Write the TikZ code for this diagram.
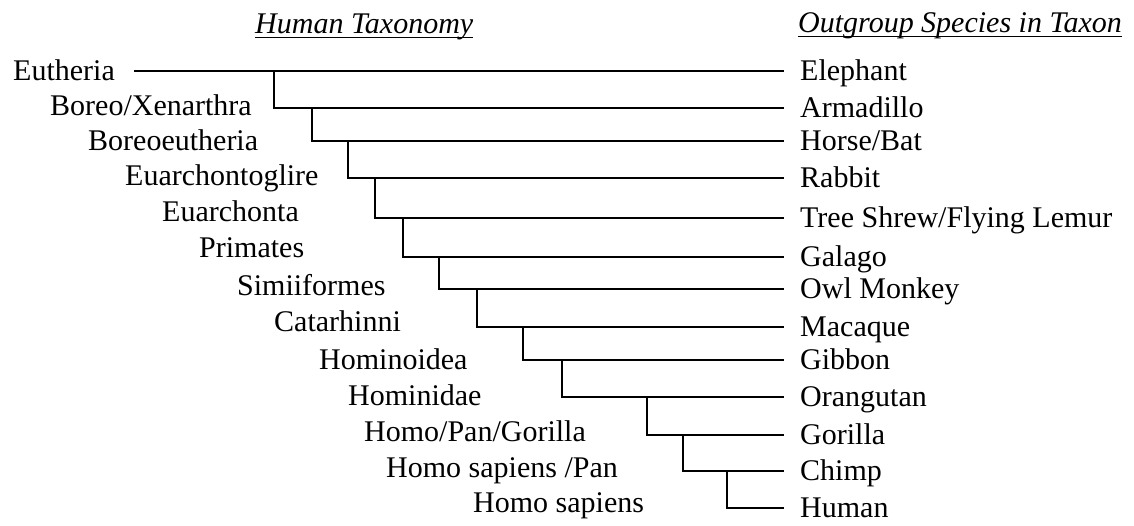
\documentclass[tikz,border=0pt]{standalone}
\usepackage{fontspec}
\setmainfont{Liberation Serif}
\begin{document}
\begin{tikzpicture}[x=1pt,y=-1pt,
  every node/.style={font=\fontsize{30}{36}\selectfont},
  clade/.style={anchor=west, inner xsep=0pt, inner ysep=0pt, text height=20pt, text depth=2pt},
  taxon/.style={anchor=west, inner xsep=16pt, inner ysep=0pt, text height=20pt, text depth=2pt},
  heading/.style={anchor=base west, inner sep=0pt, font=\fontsize{30}{36}\selectfont\itshape},
  branch/.style={line width=1.1pt, black},
  uline/.style={line width=1pt, black}]
\useasboundingbox (0,0) rectangle (1134,525);

% headings
\node[heading] (ht) at (255,33) {Human Taxonomy};
\node[heading] (ot) at (798,32) {Outgroup Species in Taxon};
\draw[uline] ([yshift=-4.5pt]ht.base west) -- ([yshift=-4.5pt]ht.base east);
\draw[uline] ([yshift=-4.5pt]ot.base west) -- ([yshift=-4.5pt]ot.base east);

% clade labels (left)
\node[clade] (eutheria) at (13,71) {Eutheria};
\node[clade] (boreox) at (50,106) {Boreo/Xenarthra};
\node[clade] (boreoeu) at (88,141) {Boreoeutheria};
\node[clade] (euarchontoglire) at (125,176) {Euarchontoglire};
\node[clade] (euarchonta) at (162,212) {Euarchonta};
\node[clade] (primates) at (199,248) {Primates};
\node[clade] (simii) at (237,286) {Simiiformes};
\node[clade] (catarhinni) at (274,322) {Catarhinni};
\node[clade] (hominoidea) at (319,360) {Hominoidea};
\node[clade] (hominidae) at (348,396) {Hominidae};
\node[clade] (hpg) at (364,432) {Homo/Pan/Gorilla};
\node[clade] (hsp) at (386,468) {Homo sapiens /Pan};
\node[clade] (hs) at (473,503) {Homo sapiens};

% outgroup species (right)
\node[taxon] (elephant) at (784,71) {Elephant};
\node[taxon] (armadillo) at (784,108) {Armadillo};
\node[taxon] (horsebat) at (784,141) {Horse/Bat};
\node[taxon] (rabbit) at (784,178) {Rabbit};
\node[taxon] (treeshrew) at (784,218) {Tree Shrew/Flying Lemur};
\node[taxon] (galago) at (784,257) {Galago};
\node[taxon] (owl) at (784,289) {Owl Monkey};
\node[taxon] (macaque) at (784,327) {Macaque};
\node[taxon] (gibbon) at (784,360) {Gibbon};
\node[taxon] (orangutan) at (784,397) {Orangutan};
\node[taxon] (gorilla) at (784,435) {Gorilla};
\node[taxon] (chimp) at (784,471) {Chimp};
\node[taxon] (human) at (784,508) {Human};

% junctions
\coordinate (j1) at (274,71);
\coordinate (j2) at (312,108);
\coordinate (j3) at (348,141);
\coordinate (j4) at (375,178);
\coordinate (j5) at (403,218);
\coordinate (j6) at (439,257);
\coordinate (j7) at (477,289);
\coordinate (j8) at (523,327);
\coordinate (j9) at (562,360);
\coordinate (j10) at (647,397);
\coordinate (j11) at (683,435);
\coordinate (j12) at (727,471);

% branches
\draw[branch, shorten <=19pt] (eutheria.east) -- (elephant.west);
\draw[branch] (j1) |- (armadillo.west);
\draw[branch] (j2) |- (horsebat.west);
\draw[branch] (j3) |- (rabbit.west);
\draw[branch] (j4) |- (treeshrew.west);
\draw[branch] (j5) |- (galago.west);
\draw[branch] (j6) |- (owl.west);
\draw[branch] (j7) |- (macaque.west);
\draw[branch] (j8) |- (gibbon.west);
\draw[branch] (j9) |- (orangutan.west);
\draw[branch] (j10) |- (gorilla.west);
\draw[branch] (j11) |- (chimp.west);
\draw[branch] (j12) |- (human.west);
\end{tikzpicture}
\end{document}
